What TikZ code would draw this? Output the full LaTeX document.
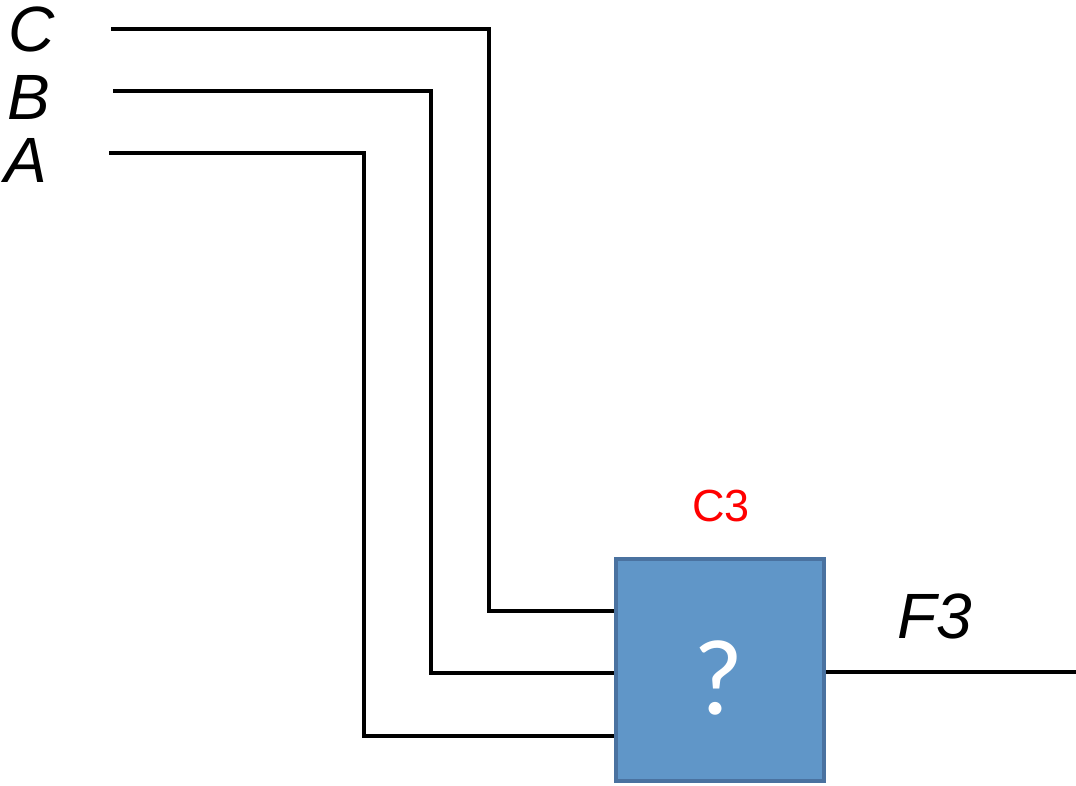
\documentclass[tikz,border=0pt]{standalone}
\usepackage{fontspec}
\setmainfont{Liberation Sans}
\newfontfamily\calfont{Carlito}
\definecolor{boxfill}{HTML}{6096C8}
\definecolor{boxedge}{HTML}{4A72A0}
\begin{document}
\begin{tikzpicture}[x=1pt,y=-1pt,
  wire/.style={line width=4.6pt,black},
  lbl/.style={inner sep=0pt,font=\fontsize{64}{64}\selectfont\itshape}]
\useasboundingbox (0,0) rectangle (1076,786);
\node[draw=boxedge,fill=boxfill,line width=4pt,minimum width=208pt,minimum height=222pt,inner sep=0pt] (gate) at (720,670) {};
\node[inner sep=0pt,text=white,font=\calfont\fontsize{108}{108}\selectfont] (q) at (719,678) {?};
\node[inner sep=0pt,text=red,font=\fontsize{45}{45}\selectfont] (c3) at (721,506) {C3};
\node[lbl] (lc) at (32,29) {C};
\node[lbl] (lb) at (29,97) {B};
\node[lbl] (la) at (26,160) {A};
\node[lbl] (f3) at (935,616) {F3};
\coordinate (cs) at (111,29);
\coordinate (bs) at (113,91);
\coordinate (as) at (109,153);
\coordinate (ce) at (gate.west |- 0,611);
\coordinate (be) at (gate.west |- 0,673);
\coordinate (ae) at (gate.west |- 0,736);
\coordinate (out) at (1076,672);
\draw[wire] (cs) -| (489,611) -- (ce);
\draw[wire] (bs) -| (431,673) -- (be);
\draw[wire] (as) -| (364,736) -- (ae);
\draw[wire] (gate.east |- out) -- (out);
\end{tikzpicture}
\end{document}
